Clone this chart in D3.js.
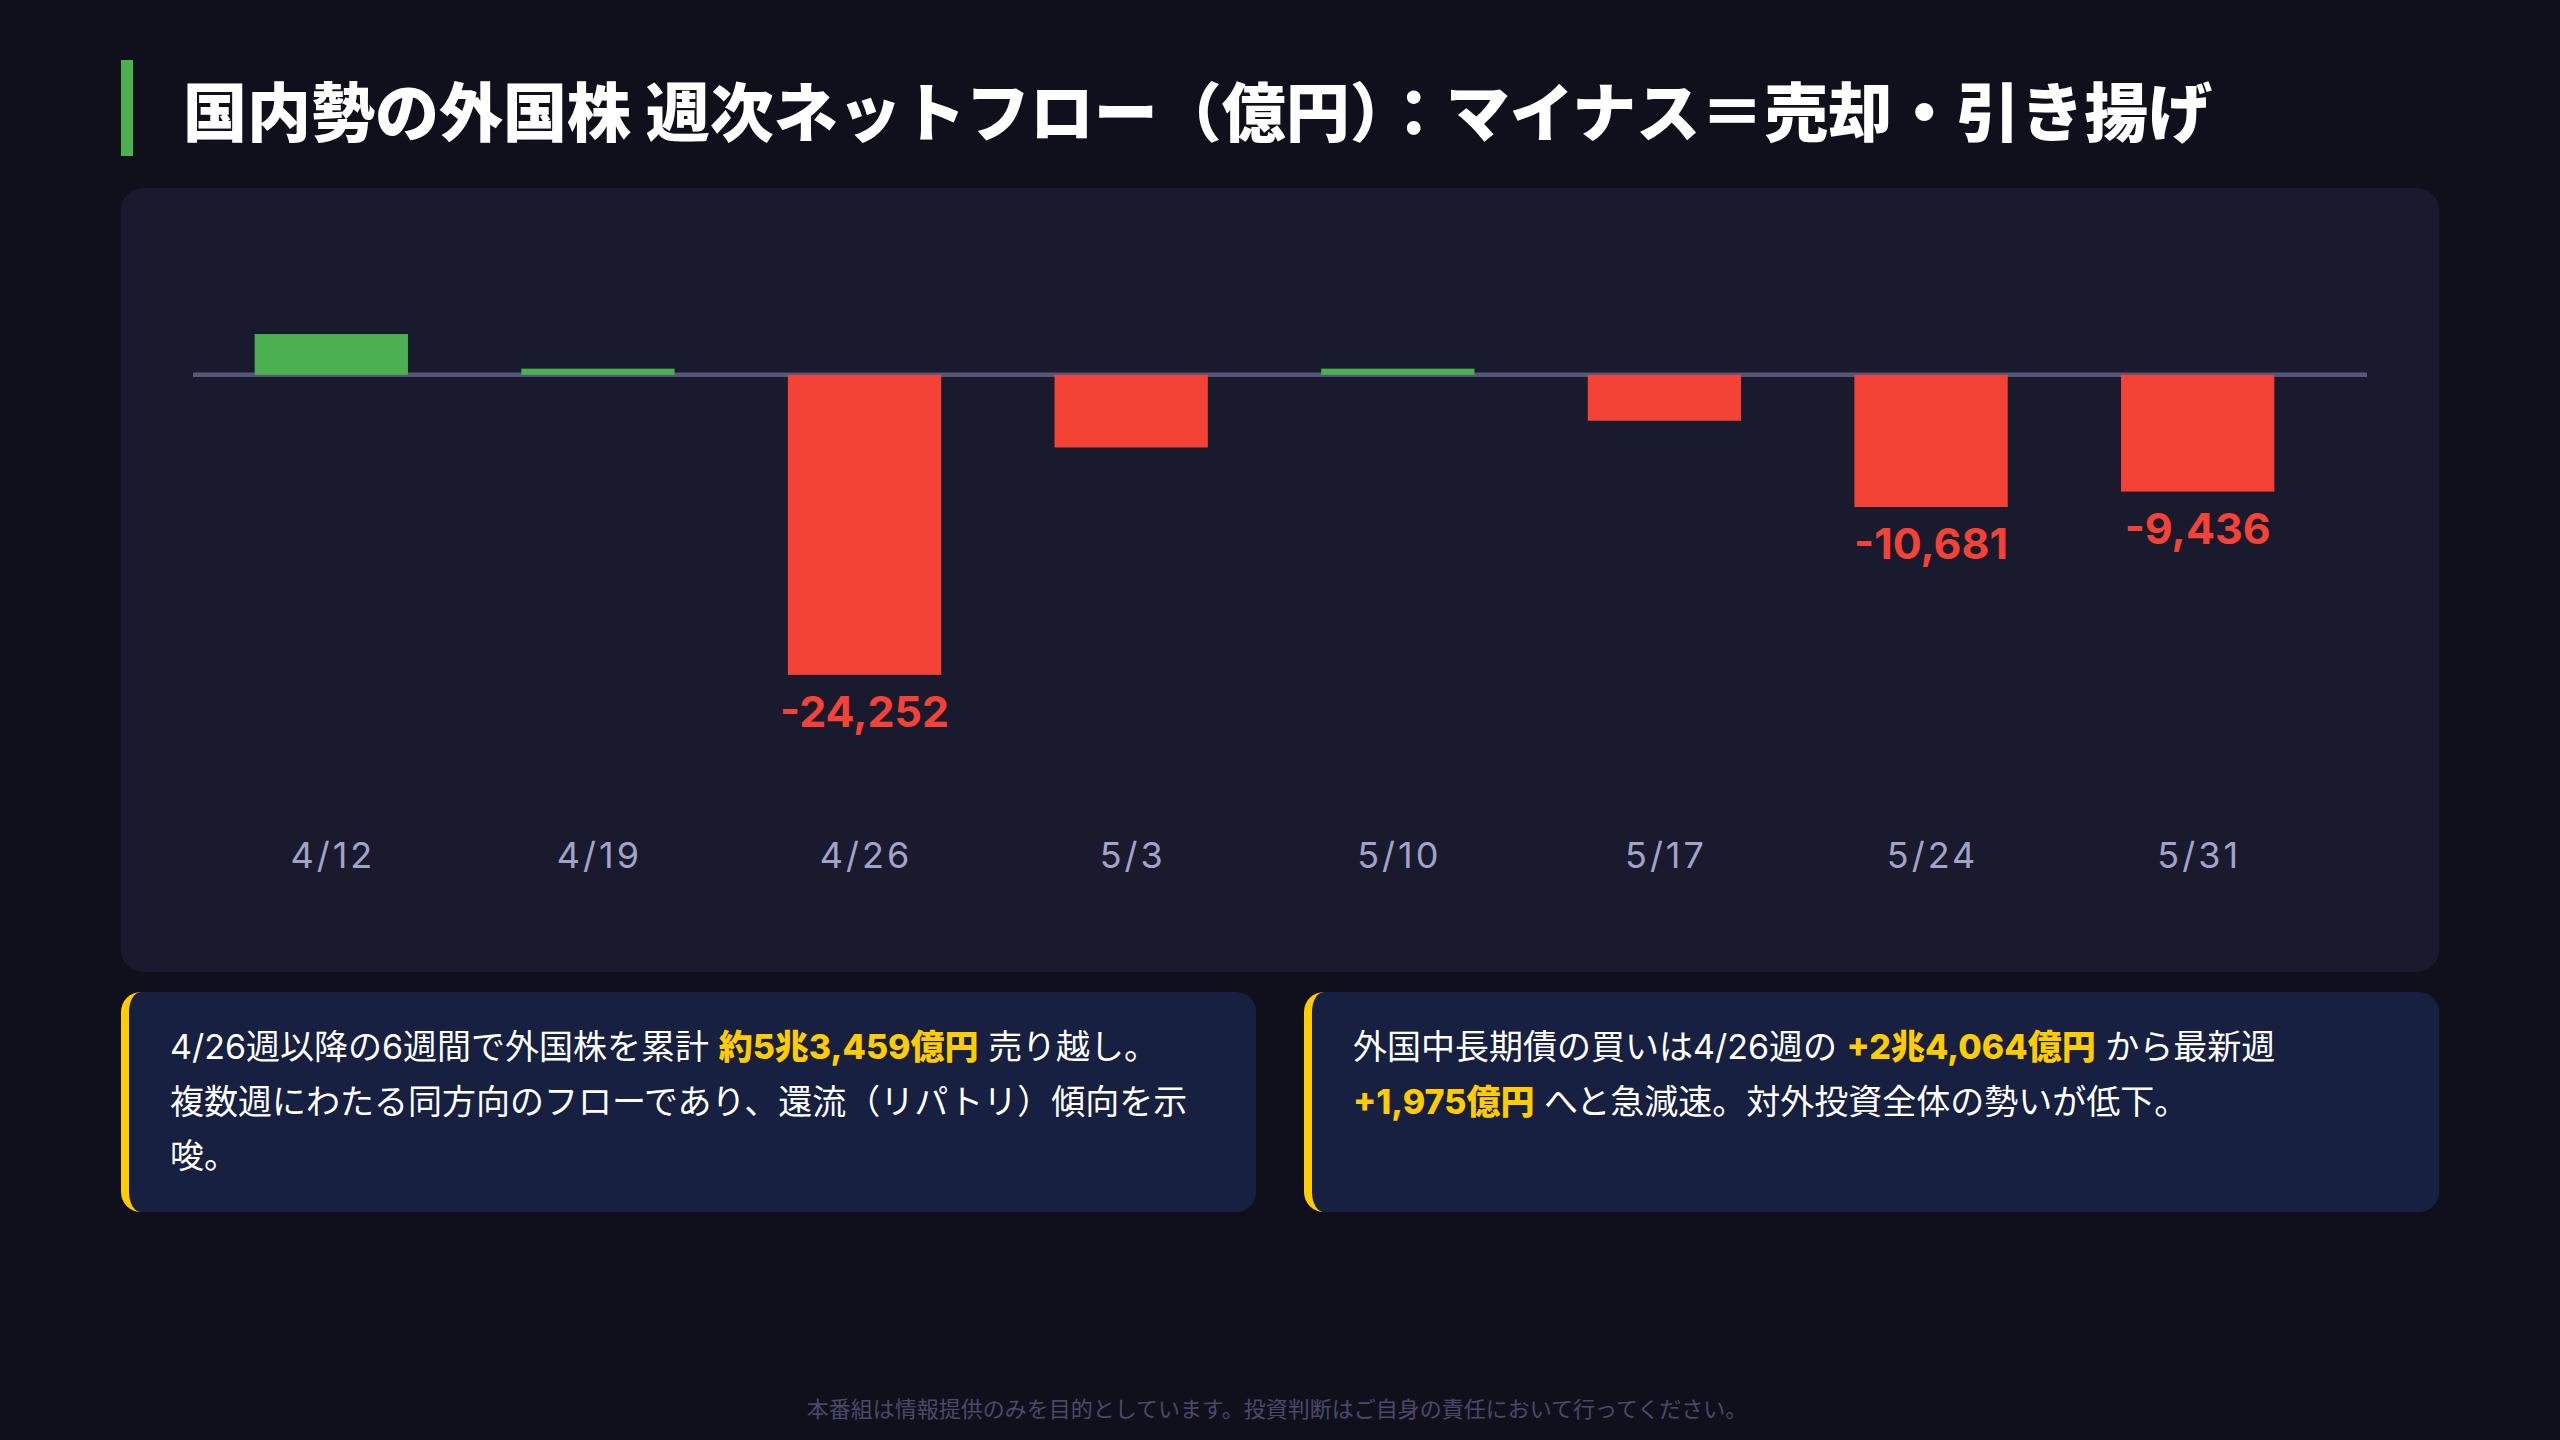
<!DOCTYPE html>
<html>

<head>
    <meta charset="utf-8">
    <script src="https://cdn.jsdelivr.net/npm/d3@7"></script>

    <style>
        body {
            margin: 0;
            width: 2560px;
            height: 1440px;
            background-color: #10101c;
            font-family: "Inter", "Noto Sans CJK JP", sans-serif;
            position: relative;
            overflow: hidden;
        }

        h1 {
            position: absolute;
            left: 121px;
            top: 60px;
            height: 96px;
            margin: 0;
            border-left: 12px solid #4caf50;
            padding-left: 50px;
            font-family: "Noto Sans CJK JP", sans-serif;
            font-size: 64px;
            font-weight: 900;
            line-height: 96px;
            color: #ffffff;
            white-space: nowrap;
        }

        #chart {
            position: absolute;
            left: 121px;
            top: 188px;
            width: 2318px;
            height: 784px;
            background-color: #1a1a2e;
            border-radius: 22px;
        }

        .notes {
            position: absolute;
            left: 121px;
            top: 992px;
            width: 2318px;
            display: flex;
            gap: 48px;
        }

        .note {
            flex: 1;
            box-sizing: border-box;
            background-color: #172040;
            border-left: 8px solid #ffcc00;
            border-radius: 20px;
            padding: 28px 40px 28px 41px;
            color: #ffffff;
            font-size: 34px;
            line-height: 54.5px;
        }

        .note b {
            color: #ffcc00;
            font-weight: 800;
            white-space: nowrap;
        }

        .footer {
            position: absolute;
            left: 0;
            top: 1391px;
            width: 2554px;
            text-align: center;
            font-family: "Noto Sans CJK JP", sans-serif;
            font-size: 22px;
            color: #4a4a68;
        }

        .x-axis text {
            font-family: "Inter", "Noto Sans CJK JP", sans-serif;
            font-size: 36px;
            letter-spacing: 3px;
            fill: #a3a3c8;
        }
    </style>
</head>

<body>

    <script type="text/javascript">
        // weekly net flow of domestic investors into foreign stocks (億円)
        var weeks = ["4/12", "4/19", "4/26", "5/3", "5/10", "5/17", "5/24", "5/31"];
        var flows = [3300, 500, -24252, -5870, 500, -3710, -10681, -9436];
        var labelMin = 9000; // only the big outflows get a value label

        // one inner list per paragraph; odd entries are the highlighted (yellow) parts
        var noteLeft = [
            ['4/26週以降の6週間で外国株を累計 ', '約5兆3,459億円', ' 売り越し。'],
            ['複数週にわたる同方向のフローであり、還流（リパトリ）傾向を示唆。']
        ];
        var noteRight = [
            ['外国中長期債の買いは4/26週の ', '+2兆4,064億円', ' から最新週 ', '+1,975億円', ' へと急減速。対外投資全体の勢いが低下。']
        ];

        d3.select("body")
            .append("h1")
            .text("国内勢の外国株 週次ネットフロー（億円）：マイナス＝売却・引き揚げ");

        /*
          chart panel
        */
        var width = 2318,
            height = 784;

        var svg = d3.select("body")
            .append("div")
            .attr("id", "chart")
            .append("svg")
            .attr("width", width)
            .attr("height", height);

        var x = d3.scaleBand()
            .domain(weeks)
            .range([77, 2210])
            .paddingInner(0.425)
            .paddingOuter(0.2125);

        var y = d3.scaleLinear()
            .domain([-30000, 5000])
            .range([558, 125]);

        // zero line behind the bars
        svg.append("line")
            .attr("x1", 72)
            .attr("x2", 2246)
            .attr("y1", y(0))
            .attr("y2", y(0))
            .attr("stroke", "#565678")
            .attr("stroke-width", 4.5);

        var data = weeks.map(function(w, i) {
            return { week: w, value: flows[i] };
        });

        svg.selectAll("rect.bar")
            .data(data)
            .enter()
            .append("rect")
            .attr("class", "bar")
            .attr("x", function(d) { return x(d.week); })
            .attr("width", x.bandwidth())
            .attr("y", function(d) { return y(Math.max(0, d.value)); })
            .attr("height", function(d) { return Math.abs(y(d.value) - y(0)); })
            .attr("fill", function(d) { return d.value >= 0 ? "#4caf50" : "#f44336"; });

        var fmt = d3.format(",");
        svg.selectAll("text.value")
            .data(data.filter(function(d) { return Math.abs(d.value) >= labelMin; }))
            .enter()
            .append("text")
            .attr("class", "value")
            .attr("x", function(d) { return x(d.week) + x.bandwidth() / 2; })
            .attr("y", function(d) { return y(d.value) + 52; })
            .attr("text-anchor", "middle")
            .style("font-family", "Inter, sans-serif")
            .style("font-size", "43px")
            .style("font-weight", "700")
            .style("fill", "#f44336")
            .text(function(d) { return fmt(d.value).replace("−", "-"); });

        var xAxis = svg.append("g")
            .attr("class", "x-axis")
            .attr("transform", "translate(1.5,654)")
            .call(d3.axisBottom(x).tickSize(0).tickPadding(0));
        xAxis.select(".domain").remove();

        /*
          notes below the chart
        */
        var notes = d3.select("body").append("div").attr("class", "notes");
        [noteLeft, noteRight].forEach(function(paras) {
            var box = notes.append("div").attr("class", "note");
            paras.forEach(function(parts) {
                var p = box.append("div");
                parts.forEach(function(t, i) {
                    p.append(i % 2 === 1 ? "b" : "span").text(t);
                });
            });
        });

        d3.select("body")
            .append("div")
            .attr("class", "footer")
            .text("本番組は情報提供のみを目的としています。投資判断はご自身の責任において行ってください。");
    </script>
</body>

</html>
